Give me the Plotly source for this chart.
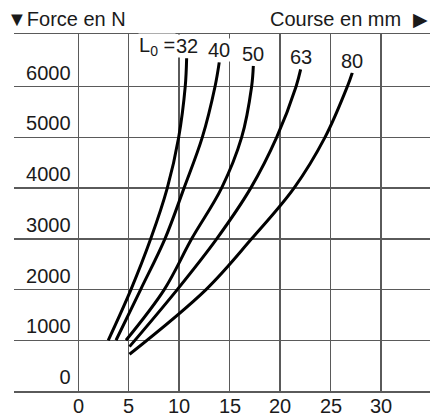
import plotly.graph_objects as go

# Travel (mm) and force (N), one list pair per free length L0
l0_labels = ["32", "40", "50", "63", "80"]
travel_32 = [2.97, 5.22, 7.18, 8.82, 9.95, 10.60, 10.74]
force_32 = [1000, 2000, 3000, 4000, 5000, 6000, 6560]
travel_40 = [3.74, 6.18, 8.59, 10.48, 12.29, 13.55, 13.97]
force_40 = [1000, 2000, 3000, 4000, 5000, 6000, 6480]
travel_50 = [4.73, 8.52, 11.24, 14.20, 16.19, 17.18, 17.35]
force_50 = [1000, 2000, 3000, 4000, 5000, 6000, 6410]
travel_63 = [5.08, 9.81, 13.72, 17.09, 19.66, 21.58, 22.04]
force_63 = [875, 2000, 3000, 4000, 5000, 6000, 6340]
travel_80 = [5.08, 12.66, 17.18, 21.38, 24.45, 26.66, 27.16]
force_80 = [724, 2000, 3000, 4000, 5000, 6000, 6276]

x_ticks = [0, 5, 10, 15, 20, 25, 30]
y_ticks = [0, 1000, 2000, 3000, 4000, 5000, 6000]

series = [
    (travel_32, force_32),
    (travel_40, force_40),
    (travel_50, force_50),
    (travel_63, force_63),
    (travel_80, force_80),
]

FONT = "Liberation Sans, Arial, sans-serif"
TXT = "#1a1a1a"
GRID = "#5a5a5a"

fig = go.Figure()
for (xs, ys), name in zip(series, l0_labels):
    fig.add_trace(go.Scatter(
        x=xs, y=ys, mode="lines", name=name,
        line=dict(color="black", width=3, shape="spline", smoothing=1.0),
        hoverinfo="skip", showlegend=False,
    ))

annotations = []
for (xs, ys), name in zip(series, l0_labels):
    annotations.append(dict(
        x=xs[-1], y=ys[-1], xref="x", yref="y", text=name, showarrow=False,
        xanchor="center", yanchor="middle", yshift=12,
        font=dict(family=FONT, size=20, color=TXT), bgcolor="white", borderpad=0,
    ))
# "L0 =" prefix before the first label
annotations.append(dict(
    x=travel_32[-1], y=force_32[-1], xref="x", yref="y",
    text="L<sub>0</sub> =", showarrow=False, xanchor="right", yanchor="middle",
    yshift=12, xshift=-11,
    font=dict(family=FONT, size=20, color=TXT), bgcolor="white", borderpad=0,
))
# x tick labels, placed on the x scale just below the axis
for v in x_ticks:
    annotations.append(dict(
        x=v, y=0, xref="x", yref="paper", text=str(v), showarrow=False,
        xanchor="center", yanchor="top", yshift=-2,
        font=dict(family=FONT, size=20, color=TXT),
    ))
annotations.append(dict(
    x=-0.022, y=1.043, xref="paper", yref="paper", text="▼Force en N",
    showarrow=False, xanchor="left", yanchor="middle",
    font=dict(family=FONT, size=20, color=TXT),
))
annotations.append(dict(
    x=0.935, y=1.043, xref="paper", yref="paper", text="Course en mm",
    showarrow=False, xanchor="right", yanchor="middle",
    font=dict(family=FONT, size=20, color=TXT),
))
annotations.append(dict(
    x=1.0, y=1.043, xref="paper", yref="paper", text="▶",
    showarrow=False, xanchor="right", yanchor="middle",
    font=dict(family="DejaVu Sans", size=19, color=TXT),
))

fig.update_layout(
    width=430, height=418,
    margin=dict(l=14, r=0, t=34, b=27, autoexpand=False),
    paper_bgcolor="white", plot_bgcolor="white",
    font=dict(family=FONT, size=20, color=TXT),
    annotations=annotations,
    xaxis=dict(
        range=[-6.37, 34.86], tickvals=x_ticks, showticklabels=False,
        showgrid=True, gridcolor=GRID, gridwidth=1.5, zeroline=False,
        showline=True, mirror=True, linecolor=GRID, linewidth=1.5,
        ticks="", automargin=False,
    ),
    yaxis=dict(
        range=[0, 7039], tickvals=y_ticks, ticktext=[str(v) for v in y_ticks],
        anchor="free", position=0.136, ticklabelposition="outside top",
        automargin=False,
        showgrid=True, gridcolor=GRID, gridwidth=1.5, zeroline=False,
        showline=False, ticks="", tickfont=dict(family=FONT, size=20, color=TXT),
    ),
)

fig.write_html(
    "out.html",
    config={"displayModeBar": False, "staticPlot": True},
    post_script="document.body.style.margin='0';document.body.style.overflow='hidden';",
)
